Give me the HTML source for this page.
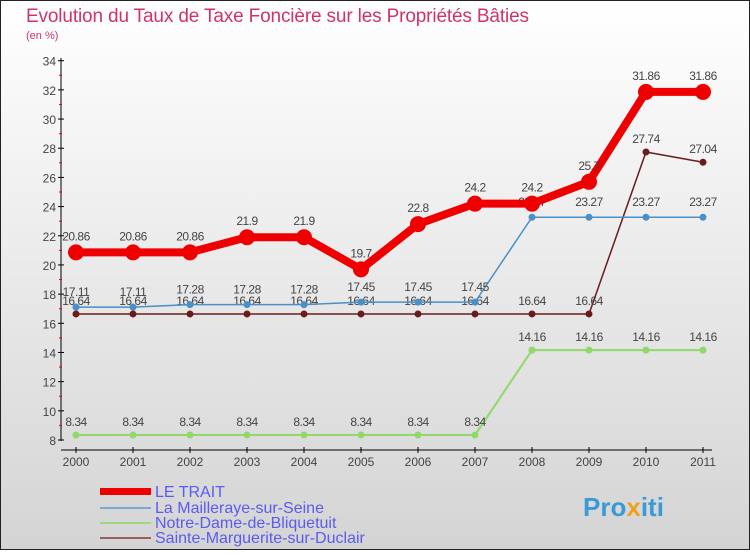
<!DOCTYPE html>
<html><head><meta charset="utf-8"><style>
body{margin:0}
svg text{font-family:"Liberation Sans",sans-serif}
</style></head><body>
<svg width="750" height="550" xmlns="http://www.w3.org/2000/svg">
<defs><linearGradient id="bg" x1="0" y1="0" x2="0" y2="1"><stop offset="0" stop-color="#ffffff"/><stop offset="1" stop-color="#d4d4d4"/></linearGradient></defs>
<rect x="0.5" y="0.5" width="749" height="549" fill="url(#bg)" stroke="#222"/>
<text x="26" y="22" font-size="19" fill="#d0336a" textLength="503">Evolution du Taux de Taxe Foncière sur les Propriétés Bâties</text>
<text x="26" y="39" font-size="11" fill="#d0336a">(en %)</text>
<g id="axes"></g><g id="series"></g>
<g font-size="16" fill="#5b5bf0">
<rect x="100" y="488" width="51" height="7" fill="#e00"/>
<text x="155" y="497">LE TRAIT</text>
<rect x="100" y="507" width="51" height="2" fill="#7aaad0"/>
<text x="155" y="513">La Mailleraye-sur-Seine</text>
<rect x="100" y="522" width="51" height="2" fill="#9ed880"/>
<text x="155" y="528">Notre-Dame-de-Bliquetuit</text>
<rect x="100" y="537" width="51" height="2" fill="#9a6060"/>
<text x="155" y="543">Sainte-Marguerite-sur-Duclair</text>
</g>
<text x="583" y="516" font-size="26" font-weight="bold" fill="#3a9ad8">Pro<tspan fill="#f0a020">x</tspan>iti</text>
</svg>
<script>
const years=["2000","2001","2002","2003","2004","2005","2006","2007","2008","2009","2010","2011"];
const leTrait=[20.86,20.86,20.86,21.9,21.9,19.7,22.8,24.2,24.2,25.7,31.86,31.86];
const leTraitLbl=["20.86","20.86","20.86","21.9","21.9","19.7","22.8","24.2","24.2","25.7","31.86","31.86"];
const maill=[17.11,17.11,17.28,17.28,17.28,17.45,17.45,17.45,23.27,23.27,23.27,23.27];
const notre=[8.34,8.34,8.34,8.34,8.34,8.34,8.34,8.34,14.16,14.16,14.16,14.16];
const sainte=[16.64,16.64,16.64,16.64,16.64,16.64,16.64,16.64,16.64,16.64,27.74,27.04];
const yTicks=[8,10,12,14,16,18,20,22,24,26,28,30,32,34];
const NS="http://www.w3.org/2000/svg";
const X=i=>76+i*57, Y=v=>440-(v-8)*(379.3/26);
function mk(p,t,a){const e=document.createElementNS(NS,t);for(const k in a)e.setAttribute(k,a[k]);p.appendChild(e);return e;}
const ax=document.getElementById('axes'), sg=document.getElementById('series');
let l=mk(ax,'line',{x1:61,y1:58,x2:61,y2:441,stroke:'#000'});


l=mk(ax,'line',{x1:61,y1:450,x2:712,y2:450,stroke:'#000'});


yTicks.forEach(v=>{mk(ax,'line',{x1:58,y1:Y(v),x2:64,y2:Y(v),stroke:'#000'});
 if(v<34)mk(ax,'line',{x1:59,y1:Y(v+1),x2:62,y2:Y(v+1),stroke:'#e00'});
 const t=mk(ax,'text',{x:56,y:Y(v)+5,'font-size':12,fill:'#444','text-anchor':'end'});t.textContent=v;
 
 });
years.forEach((y,i)=>{mk(ax,'line',{x1:X(i),y1:447,x2:X(i),y2:453,stroke:'#000'});
 const t=mk(ax,'text',{x:X(i),y:466,'font-size':12,fill:'#444','text-anchor':'middle'});t.textContent=y;
 
 });
function series(name,vals,lbls,col,w,r,dy){
 const g=mk(sg,'g',{});
 
 
 mk(g,'polyline',{points:vals.map((v,i)=>X(i)+','+Y(v)).join(' '),fill:'none',stroke:col,'stroke-width':w,'stroke-linejoin':'round'});
 vals.forEach((v,i)=>{const c=mk(g,'circle',{cx:X(i),cy:Y(v),r:r,fill:col});
  
  
  const t=mk(g,'text',{x:X(i),y:Y(v)-dy,'font-size':12,fill:'#444','text-anchor':'middle','letter-spacing':'-0.5'});
  t.textContent=lbls?lbls[i]:String(v);
  
  });
}
series('notre',notre,null,'#8fd86a',2,3.5,9);
series('sainte',sainte,null,'#6a1c1c',1.5,3.5,9);
series('maill',maill,null,'#4a90c8',1.5,3.5,11);
series('le-trait',leTrait,leTraitLbl,'#ee0000',8,8,12);
</script>
</body></html>
